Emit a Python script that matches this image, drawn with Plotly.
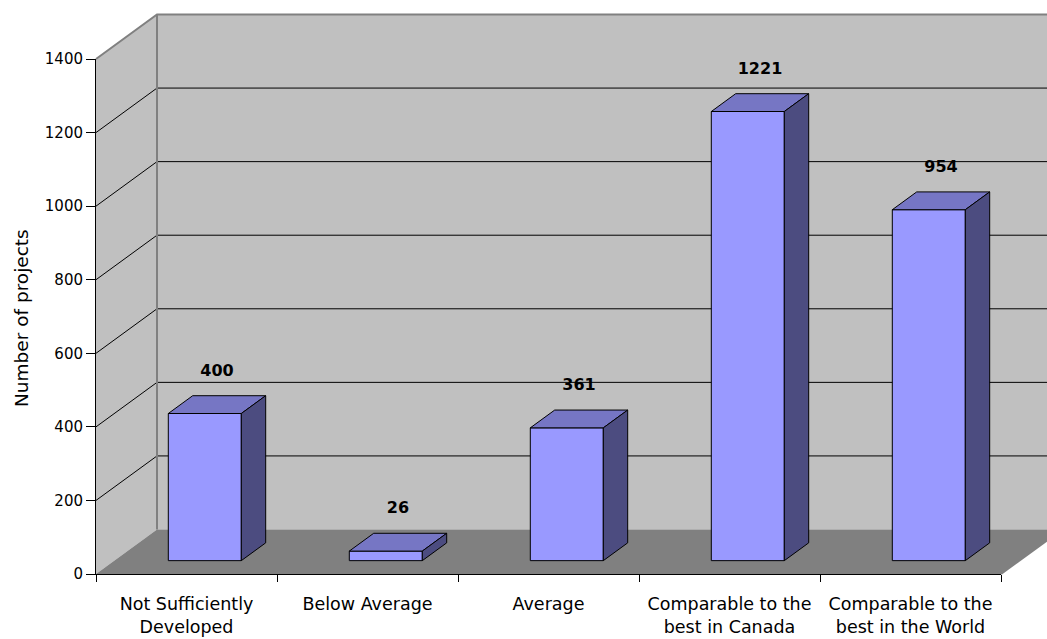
import plotly.graph_objects as go

# ---- data ----
categories = [
    "Not Sufficiently<br>Developed",
    "Below Average",
    "Average",
    "Comparable to the<br>best in Canada",
    "Comparable to the<br>best in the World",
]
projects = [400, 26, 361, 1221, 954]
y_ticks = [0, 200, 400, 600, 800, 1000, 1200, 1400]
y_title = "Number of projects"

# ---- layout geometry (pixels) ----
W, H = 1047, 639
L, R, B, T = 96, 1001, 574, 59          # front plane of the 3-D box
n = len(categories)
ymax = y_ticks[-1]
cat_px = (R - L) / n
val_px = (B - T) / ymax
DX = 61 / cat_px          # depth offset in category units
DY = 44.5 / val_px        # depth offset in value units
D1, D2 = 0.3, 0.7         # bar front / back depth fractions
BW = 73 / cat_px          # bar width in category units
LABEL_UP = 33 / val_px

x_lo = -0.5 - L / cat_px
x_hi = -0.5 + (W - L) / cat_px
y_lo = -(H - B) / val_px
y_hi = ymax + T / val_px

WALL = "#C0C0C0"
FLOOR = "#808080"
EDGE = "#808080"
FRONT = "#9999FF"
TOP = "#7676C4"
SIDE = "#4C4C80"
FONT = "DejaVu Sans"

fig = go.Figure()

x0w, x1w = -0.5, n - 0.5
# left wall
fig.add_trace(go.Scatter(
    x=[x0w, x0w, x0w + DX, x0w + DX, x0w], y=[0, ymax, ymax + DY, DY, 0],
    fill="toself", fillcolor=WALL, mode="lines", line=dict(width=0),
    xaxis="x", yaxis="y", hoverinfo="skip"))
# back wall
fig.add_trace(go.Scatter(
    x=[x0w + DX, x1w + DX, x1w + DX, x0w + DX, x0w + DX], y=[DY, DY, ymax + DY, ymax + DY, DY],
    fill="toself", fillcolor=WALL, mode="lines", line=dict(width=0),
    xaxis="x", yaxis="y", hoverinfo="skip"))
# floor
fig.add_trace(go.Scatter(
    x=[x0w, x1w, x1w + DX, x0w + DX, x0w], y=[0, 0, DY, DY, 0],
    fill="toself", fillcolor=FLOOR, mode="lines", line=dict(width=0),
    xaxis="x", yaxis="y", hoverinfo="skip"))
# gridlines (left wall diagonal + back wall horizontal)
gx, gy = [], []
for t in y_ticks[1:-1]:
    gx += [x0w, x0w + DX, x1w + DX, None]
    gy += [t, t + DY, t + DY, None]
fig.add_trace(go.Scatter(x=gx, y=gy, mode="lines", line=dict(color="black", width=1),
                         xaxis="x", yaxis="y", hoverinfo="skip"))
# wall edges
fig.add_trace(go.Scatter(
    x=[x0w, x0w + DX, x1w + DX + 1, None, x0w + DX, x0w + DX, None, x1w, x1w + DX],
    y=[ymax, ymax + DY, ymax + DY, None, ymax + DY, DY, None, 0, DY],
    mode="lines", line=dict(color=EDGE, width=2), xaxis="x", yaxis="y", hoverinfo="skip"))

# ---- bars ----
idx = list(range(n))
fig.add_trace(go.Bar(
    x=idx, y=projects, base=D1 * DY, width=BW, offset=-BW / 2 + D1 * DX,
    marker=dict(color=FRONT, line=dict(color="black", width=1)),
    xaxis="x2", yaxis="y2", hoverinfo="skip"))

ddx = (D2 - D1) * DX
b1, b2 = D1 * DY, D2 * DY
tx, ty, sx, sy = [], [], [], []
for i, v in enumerate(projects):
    xa = i - BW / 2 + D1 * DX
    xb = xa + BW
    tx += [xa, xb, xb + ddx, xa + ddx, xa, None]
    ty += [v + b1, v + b1, v + b2, v + b2, v + b1, None]
    sx += [xb, xb, xb + ddx, xb + ddx, xb, None]
    sy += [b1, v + b1, v + b2, b2, b1, None]
fig.add_trace(go.Scatter(x=tx, y=ty, fill="toself", fillcolor=TOP, mode="lines",
                         line=dict(color="black", width=1), xaxis="x2", yaxis="y2", hoverinfo="skip"))
fig.add_trace(go.Scatter(x=sx, y=sy, fill="toself", fillcolor=SIDE, mode="lines",
                         line=dict(color="black", width=1), xaxis="x2", yaxis="y2", hoverinfo="skip"))

# value labels
fig.add_trace(go.Scatter(
    x=[i + 0.5 * DX for i in idx], y=[v + 0.5 * DY + LABEL_UP for v in projects],
    text=[str(v) for v in projects], mode="text", textposition="middle center",
    textfont=dict(family=FONT, size=16, color="black", weight="bold"),
    cliponaxis=False, xaxis="x2", yaxis="y2", hoverinfo="skip"))

fig.update_layout(
    width=W, height=H, margin=dict(l=0, r=0, t=0, b=0, pad=0, autoexpand=False),
    paper_bgcolor="white", plot_bgcolor="rgba(0,0,0,0)",
    showlegend=False, font=dict(family=FONT, color="black"),
    xaxis=dict(domain=[0, 1], range=[x_lo, x_hi], visible=False, fixedrange=True,
               automargin=False),
    yaxis=dict(domain=[0, 1], range=[y_lo, y_hi], visible=False, fixedrange=True,
               automargin=False),
    xaxis2=dict(domain=[L / W, R / W], range=[-0.5, n - 0.5], anchor="y2",
                tickmode="array", tickvals=idx, ticktext=categories,
                ticks="outside", ticklen=7, tickcolor="rgba(0,0,0,0)",
                ticklabelstandoff=7,
                minor=dict(tickmode="array", tickvals=[i - 0.5 for i in range(n + 1)],
                           ticks="outside", ticklen=7, tickcolor="black", tickwidth=1),
                showline=True, linecolor="black", linewidth=1, automargin=False,
                showgrid=False, zeroline=False, tickfont=dict(size=17.5), fixedrange=True),
    yaxis2=dict(domain=[(H - B) / H, (H - T) / H], range=[0, ymax], anchor="x2",
                tickmode="array", tickvals=y_ticks, ticks="outside", ticklen=9,
                tickcolor="black", showline=True, linecolor="black", linewidth=1,
                automargin=False,
                showgrid=False, zeroline=False, tickfont=dict(size=15), fixedrange=True),
    annotations=[dict(text=y_title, xref="paper", yref="paper", x=21 / W, y=(H - 318) / H,
                      textangle=-90, showarrow=False, font=dict(size=18.5),
                      xanchor="center", yanchor="middle")],
)

fig.write_html("out.html")
